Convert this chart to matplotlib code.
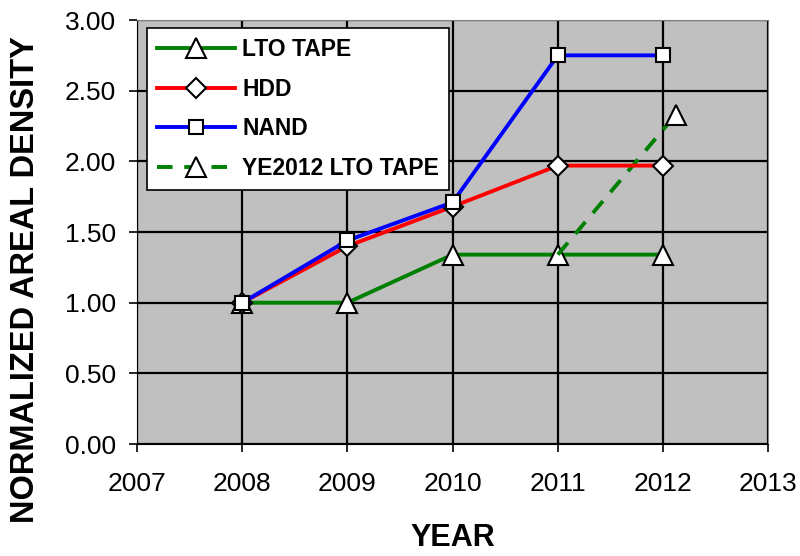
import matplotlib.pyplot as plt

plt.rcParams['font.family'] = ['Liberation Sans', 'DejaVu Sans']

years = [2008, 2009, 2010, 2011, 2012]
lto_tape = [1.00, 1.00, 1.34, 1.34, 1.34]
hdd = [1.00, 1.40, 1.68, 1.97, 1.97]
nand = [1.00, 1.44, 1.71, 2.75, 2.75]
ye2012_years = [2011, 2012.12]
ye2012_lto = [1.34, 2.33]

fig = plt.figure(figsize=(8, 5.56), dpi=100)
ax = fig.add_axes([0.1713, 0.2014, 0.789, 0.7626])
ax.set_facecolor('#C0C0C0')

mk = dict(markerfacecolor='white', markeredgecolor='black', markeredgewidth=1.5)
ax.plot(years, lto_tape, color='#008000', lw=2.8, marker='^', ms=15, label='LTO TAPE', zorder=3, **mk)
ax.plot(years, hdd, color='#FF0000', lw=2.8, marker='D', ms=10, label='HDD', zorder=4, **mk)
ax.plot(years, nand, color='#0000FF', lw=2.8, marker='s', ms=10.5, label='NAND', zorder=5, **mk)
ax.plot(ye2012_years, ye2012_lto, color='#008000', lw=2.8, ls=(0, (4, 3)), marker='^', ms=15,
        markevery=[1], label='YE2012 LTO TAPE', zorder=3, **mk)

ax.set_xlim(2007, 2013)
ax.set_ylim(0, 3)
ax.set_xticks(range(2007, 2014))
ax.set_yticks([0, 0.5, 1.0, 1.5, 2.0, 2.5, 3.0])
ax.set_yticklabels(['%.2f' % v for v in ax.get_yticks()])
ax.grid(True, color='black', lw=1.6)
ax.set_axisbelow(True)
ax.tick_params(labelsize=19, length=6, width=1.2, color='black')
ax.tick_params(axis='x', pad=14)
ax.tick_params(axis='y', pad=9)
for side in ['top', 'right']:
    ax.spines[side].set_color('#808080')
for side in ['left', 'bottom']:
    ax.spines[side].set_color('black')

# axis titles placed by hand
fig.text(0.032, 0.498, 'NORMALIZED AREAL DENSITY', rotation=90, fontsize=23.5,
         fontweight='bold', ha='center', va='center')
fig.text(0.566, 0.006, 'YEAR', fontsize=22, fontweight='bold', ha='center', va='bottom')

leg = ax.legend(loc='upper left', bbox_to_anchor=(0.0158, 0.981), borderaxespad=0,
                prop={'weight': 'bold', 'size': 16.5}, fancybox=False, framealpha=1,
                edgecolor='black', handlelength=3.4, handletextpad=0.3,
                borderpad=0.45, labelspacing=0.72)
leg.get_frame().set_linewidth(1.2)

fig.savefig('out.png', dpi=100)
